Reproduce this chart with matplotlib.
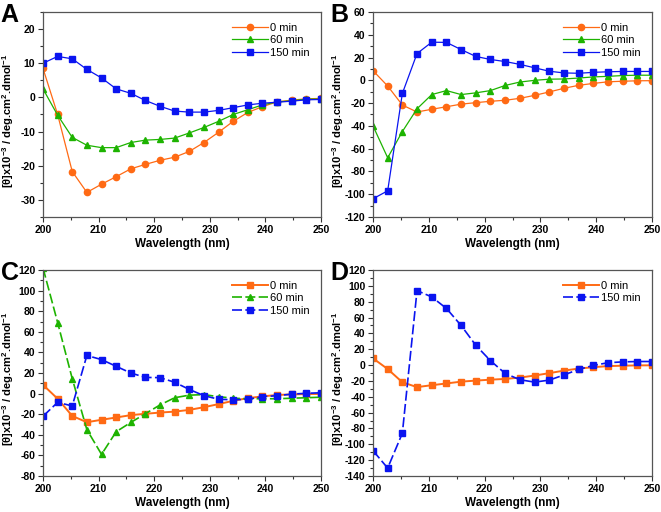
import numpy as np
import matplotlib
matplotlib.use("Agg")
import matplotlib.pyplot as plt
from matplotlib.ticker import MultipleLocator

plt.rcParams['font.family'] = ['Liberation Sans', 'DejaVu Sans']
plt.rcParams['mathtext.fontset'] = 'custom'
plt.rcParams['mathtext.rm'] = 'Liberation Sans:bold'
plt.rcParams['mathtext.bf'] = 'Liberation Sans:bold'
plt.rcParams['mathtext.default'] = 'bf'
plt.rcParams['axes.unicode_minus'] = False

wavelength = [200.0, 202.63, 205.26, 207.89, 210.53, 213.16, 215.79, 218.42, 221.05, 223.68,
              226.32, 228.95, 231.58, 234.21, 236.84, 239.47, 242.11, 244.74, 247.37, 250.0]

# Panel A
a_0 = [8.5, -5, -21.7, -27.8, -25.4, -23.2, -20.9, -19.6, -18.4, -17.5,
       -15.8, -13.2, -10.2, -7, -4.4, -2.7, -1.3, -0.8, -0.4, -0.3]
a_60 = [2.5, -5.2, -11.7, -14, -14.7, -14.7, -13.2, -12.5, -12.3, -11.9,
        -10.4, -8.8, -7, -5, -3.6, -2.2, -1.3, -1, -0.5, -0.5]
a_150 = [10, 12, 11.3, 8.2, 5.7, 2.5, 1.2, -0.9, -2.6, -4,
         -4.3, -4.3, -3.8, -3, -2.2, -1.7, -1.4, -1.1, -0.7, -0.6]

# Panel B
b_0 = a_0
b_60 = [-40, -68, -45, -25, -12.5, -9, -12.5, -11, -9, -4.5,
        -1.5, 0, 1, 1.2, 2, 3, 3.5, 4.2, 4.5, 4.5]
b_150 = [-104, -97, -11.5, 23.5, 33.5, 33.3, 27, 21, 18.3, 16.5,
         14, 11, 8, 6.5, 6.2, 7, 7.5, 7.8, 7.8, 7.8]

# Panel C
c_0 = a_0
c_60 = [122, 69, 14.5, -35, -59, -37, -28, -19.5, -11, -4,
        -1.5, -1, -3, -4.5, -5, -5, -5, -4.5, -4, -3.5]
c_150 = [-22, -8.5, -12, 37, 33, 26.5, 20, 15.7, 15.5, 11,
         4, -2, -5.5, -6, -5.5, -3, -2, -0.5, 0.3, 0.8]

# Panel D
d_0 = a_0
d_150 = [-108, -130, -86, 94, 86, 71.5, 50, 25, 5.5, -10.5,
         -18.5, -21.5, -19, -12.5, -5.5, -0.5, 3, 4, 4.5, 4.5]

labels = ['0 min', '60 min', '150 min']
ORANGE = '#FF6A14'
GREEN = '#1DB300'
BLUE = '#0A14F0'

fig = plt.figure(figsize=(6.61, 5.12), dpi=100)

W, H = 661, 512
def add_ax(l, r, t, b):
    return fig.add_axes([l / W, 1 - b / H, (r - l) / W, (b - t) / H])

axA = add_ax(43, 321, 12, 217)
axB = add_ax(373, 652, 12, 217)
axC = add_ax(43, 321, 270, 476)
axD = add_ax(373, 652, 270, 476)

def style(ax, ylim, ymaj, letter):
    ax.set_xlim(200, 250)
    ax.set_ylim(*ylim)
    ax.xaxis.set_major_locator(MultipleLocator(10))
    ax.xaxis.set_minor_locator(MultipleLocator(5))
    ax.yaxis.set_major_locator(MultipleLocator(ymaj))
    ax.yaxis.set_minor_locator(MultipleLocator(ymaj / 2))
    ax.tick_params(which='both', direction='out', top=False, right=False,
                   labelsize=7.5, width=0.8, color='#333333', pad=2)
    ax.tick_params(which='major', length=3.5)
    ax.tick_params(which='minor', length=2)
    for lab in ax.get_xticklabels() + ax.get_yticklabels():
        lab.set_fontweight('bold')
    for s in ax.spines.values():
        s.set_color('#555555')
        s.set_linewidth(0.9)
    ax.set_xlabel('Wavelength (nm)', fontsize=8.5, fontweight='bold')
    ax.xaxis.set_label_coords(0.5, -0.10)
    ax.set_ylabel(r'[θ]x10$^{-3}$ / deg.cm$^{2}$.dmol$^{-1}$', fontsize=8,
                  fontweight='bold')
    ax.yaxis.set_label_coords(-0.097, 0.47)
    ax.text(-0.152, 1.045, letter, transform=ax.transAxes, fontsize=18,
            fontweight='bold', ha='left', va='top')
    ax.legend(loc='upper right', frameon=False, fontsize=8, handlelength=3.2,
              handletextpad=0.2, labelspacing=0.2, borderaxespad=0.6)

ms = 4.5
# A
axA.plot(wavelength, a_0, '-o', color=ORANGE, lw=0.9, ms=ms, label=labels[0])
axA.plot(wavelength, a_60, '-^', color=GREEN, lw=0.9, ms=ms, label=labels[1])
axA.plot(wavelength, a_150, '-s', color=BLUE, lw=0.9, ms=ms - 0.5, label=labels[2])
style(axA, (-35, 25), 10, 'A')

# B
axB.plot(wavelength, b_0, '-o', color=ORANGE, lw=0.9, ms=ms, label=labels[0])
axB.plot(wavelength, b_60, '-^', color=GREEN, lw=0.9, ms=ms, label=labels[1])
axB.plot(wavelength, b_150, '-s', color=BLUE, lw=0.9, ms=ms - 0.5, label=labels[2])
style(axB, (-120, 60), 20, 'B')

# C
axC.plot(wavelength, c_0, '-s', color=ORANGE, lw=1.4, ms=ms - 0.5, label=labels[0])
axC.plot(wavelength, c_60, '--^', color=GREEN, lw=1.2, ms=ms, dashes=(6, 2), label=labels[1])
axC.plot(wavelength, c_150, '--s', color=BLUE, lw=1.2, ms=ms - 0.5, dashes=(6, 2), label=labels[2])
style(axC, (-80, 120), 20, 'C')

# D
axD.plot(wavelength, d_0, '-s', color=ORANGE, lw=1.4, ms=ms - 0.5, label=labels[0])
axD.plot(wavelength, d_150, '--s', color=BLUE, lw=1.2, ms=ms - 0.5, dashes=(6, 2), label=labels[2])
style(axD, (-140, 120), 20, 'D')

fig.savefig('out.png', dpi=100)
